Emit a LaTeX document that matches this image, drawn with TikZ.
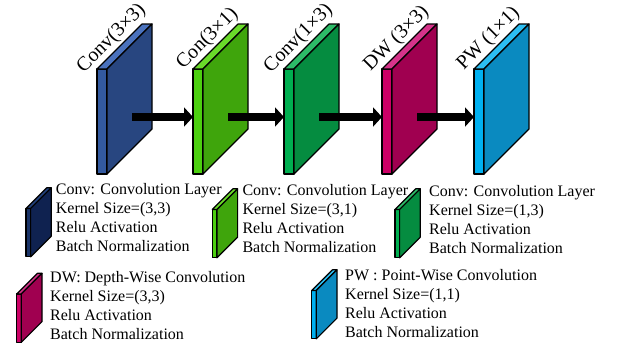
\documentclass[tikz,border=0pt]{standalone}
\usepackage{fontspec}
\setmainfont{Liberation Serif}
\usetikzlibrary{arrows.meta}

\definecolor{blueS}{HTML}{335AA0}
\definecolor{blueT}{HTML}{4A72BE}
\definecolor{blueF}{HTML}{284680}
\definecolor{navyS}{HTML}{1A3468}
\definecolor{navyT}{HTML}{22407A}
\definecolor{navyF}{HTML}{0F2250}
\definecolor{limeS}{HTML}{4CD010}
\definecolor{limeT}{HTML}{6ADB2A}
\definecolor{limeF}{HTML}{3FA50C}
\definecolor{greenS}{HTML}{00AF50}
\definecolor{greenT}{HTML}{2DBB68}
\definecolor{greenF}{HTML}{058C40}
\definecolor{pinkS}{HTML}{CC0066}
\definecolor{pinkT}{HTML}{D6338A}
\definecolor{pinkF}{HTML}{A00050}
\definecolor{cyanS}{HTML}{00B0F0}
\definecolor{cyanT}{HTML}{2CBEF2}
\definecolor{cyanF}{HTML}{0A8AC0}

\tikzset{
    edge/.style={draw=black, line width=1.2pt, line join=round},
    flow/.style={line width=8pt, -{Triangle[length=9pt, width=19pt]}},
    layer label/.style={rotate=45, anchor=south, inner sep=2pt, font=\fontsize{20}{24}\selectfont},
    legend text/.style={anchor=north west, align=left, inner sep=0pt, font=\fontsize{16}{19}\selectfont}
}

% one layer block, origin at the top left corner of the thin side
\newcommand{\slab}[1]{%
    \filldraw[edge, fill=#1S] (0,0) rectangle (10,105);
    \filldraw[edge, fill=#1T] (0,0) -- (45,-45) -- (55,-45) -- (10,0) -- cycle;
    \filldraw[edge, fill=#1F] (10,0) -- (55,-45) -- (55,60) -- (10,105) -- cycle;
}

\begin{document}
\begin{tikzpicture}[x=1pt, y=-1pt]
    \useasboundingbox (0,0) rectangle (618,346);

    % layers
    \foreach \x/\c/\t [count=\i] in {97/blue/Conv(3×3), 193/lime/Con(3×1), 284/green/Conv(1×3), 382/pink/DW (3×3), 474/cyan/PW (1×1)} {
        \begin{scope}[shift={(\x,69)}]
            \slab{\c}
        \end{scope}
        \node[layer label] (lbl\i) at (\x+22.5,46.5) {\t};
        \coordinate (in\i) at (\x,117);
        \coordinate (out\i) at (\x+35,117);
    }

    \draw[flow] (out1) -- (in2);
    \draw[flow] (out2) -- (in3);
    \draw[flow] (out3) -- (in4);
    \draw[flow] (out4) -- (in5);

    % legend
    \begin{scope}[shift={(26,208.5)}, scale=0.46]
        \slab{navy}
    \end{scope}
    \node[legend text] (key1) at (55.7,183) {Conv: Convolution Layer\\Kernel Size=(3,3)\\Relu Activation\\Batch Normalization};

    \begin{scope}[shift={(212.3,209.5)}, scale=0.46]
        \slab{lime}
    \end{scope}
    \node[legend text] (key2) at (242.3,184) {Conv: Convolution Layer\\Kernel Size=(3,1)\\Relu Activation\\Batch Normalization};

    \begin{scope}[shift={(395,209.5)}, scale=0.46]
        \slab{green}
    \end{scope}
    \node[legend text] (key3) at (429,185.5) {Conv: Convolution Layer\\Kernel Size=(1,3)\\Relu Activation\\Batch Normalization};

    \begin{scope}[shift={(16.7,294)}, scale=0.46]
        \slab{pink}
    \end{scope}
    \node[legend text] (key4) at (50,271.5) {DW: Depth-Wise Convolution\\Kernel Size=(3,3)\\Relu Activation\\Batch Normalization};

    \begin{scope}[shift={(311.7,290.5)}, scale=0.46]
        \slab{cyan}
    \end{scope}
    \node[legend text] (key5) at (345,269) {PW : Point-Wise Convolution\\Kernel Size=(1,1)\\Relu Activation\\Batch Normalization};
\end{tikzpicture}
\end{document}
